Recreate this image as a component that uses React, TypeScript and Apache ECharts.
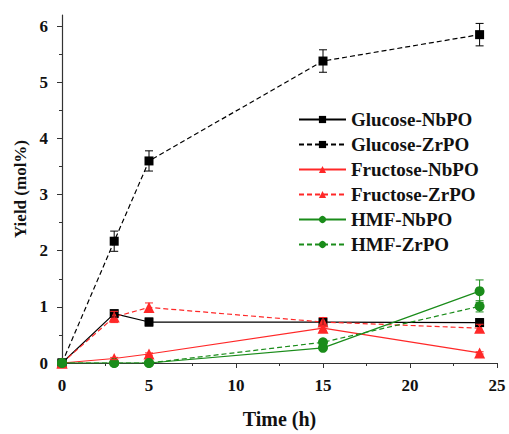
import React, { useEffect, useRef } from "react";
import * as echarts from "echarts";

const times = [0, 3, 5, 15, 24];
const glucoseNb = [0, 0.88, 0.73, 0.73, 0.72];
const glucoseNbErr = [0, 0.06, 0.07, 0.06, 0.07];
const glucoseZr = [0, 2.17, 3.6, 5.38, 5.85];
const glucoseZrErr = [0, 0.18, 0.18, 0.2, 0.2];
const fructoseNb = [0, 0.08, 0.16, 0.62, 0.18];
const fructoseNbErr = [0, 0.02, 0.02, 0.05, 0.02];
const fructoseZr = [0, 0.82, 0.99, 0.73, 0.62];
const fructoseZrErr = [0, 0.1, 0.08, 0.08, 0.07];
const hmfNb = [0, 0, 0, 0.27, 1.28];
const hmfNbErr = [0, 0, 0, 0.03, 0.2];
const hmfZr = [0, 0, 0, 0.37, 1.01];
const hmfZrErr = [0, 0, 0, 0.03, 0.1];

const yMajor = [0, 1, 2, 3, 4, 5, 6];
const yMinor = [0.5, 1.5, 2.5, 3.5, 4.5, 5.5];

const FONT = "Liberation Serif";
const BLACK = "#000000";
const RED = "#ff2828";
const GREEN = "#1a8c1a";

type S = {
  name: string;
  vals: number[];
  errs: number[];
  color: string;
  dashed: boolean;
  symbol: string;
  size: number;
};

const seriesDefs: S[] = [
  { name: "Glucose-NbPO", vals: glucoseNb, errs: glucoseNbErr, color: BLACK, dashed: false, symbol: "rect", size: 9 },
  { name: "Glucose-ZrPO", vals: glucoseZr, errs: glucoseZrErr, color: BLACK, dashed: true, symbol: "rect", size: 9 },
  { name: "Fructose-NbPO", vals: fructoseNb, errs: fructoseNbErr, color: RED, dashed: false, symbol: "triangle", size: 11 },
  { name: "Fructose-ZrPO", vals: fructoseZr, errs: fructoseZrErr, color: RED, dashed: true, symbol: "triangle", size: 11 },
  { name: "HMF-NbPO", vals: hmfNb, errs: hmfNbErr, color: GREEN, dashed: false, symbol: "circle", size: 10 },
  { name: "HMF-ZrPO", vals: hmfZr, errs: hmfZrErr, color: GREEN, dashed: true, symbol: "circle", size: 10 },
];

export default function App() {
  const ref = useRef<HTMLDivElement>(null);
  useEffect(() => {
    if (!ref.current) return;
    const chart = echarts.init(ref.current, null, { renderer: "svg" });
    const series: any[] = [];
    seriesDefs.forEach((d) => {
      series.push({
        name: d.name,
        type: "line",
        data: times.map((t, i) => [t, d.vals[i]]),
        symbol: d.symbol,
        symbolSize: d.size,
        showSymbol: true,
        itemStyle: { color: d.color },
        lineStyle: { color: d.color, width: 1.2, type: d.dashed ? [5, 3] : "solid" },
        z: 3,
      });
      series.push({
        type: "custom",
        name: d.name + "-err",
        data: times.map((t, i) => [t, d.vals[i], d.errs[i]]),
        z: 4,
        renderItem: (params: any, api: any) => {
          const x = api.value(0);
          const y = api.value(1);
          const e = api.value(2);
          if (!e) return { type: "group", children: [] };
          const lo = api.coord([x, y - e]);
          const hi = api.coord([x, y + e]);
          const st = { stroke: d.color, lineWidth: 1 };
          const w = 4;
          return {
            type: "group",
            children: [
              { type: "line", shape: { x1: lo[0], y1: lo[1], x2: hi[0], y2: hi[1] }, style: st },
              { type: "line", shape: { x1: lo[0] - w, y1: lo[1], x2: lo[0] + w, y2: lo[1] }, style: st },
              { type: "line", shape: { x1: hi[0] - w, y1: hi[1], x2: hi[0] + w, y2: hi[1] }, style: st },
            ],
          };
        },
      });
    });

    chart.setOption({
      animation: false,
      backgroundColor: "#ffffff",
      grid: { left: 62, right: 12, top: 15, bottom: 67, containLabel: false },
      legend: {
        orient: "vertical",
        left: 293,
        top: 105,
        itemWidth: 47,
        itemHeight: 9,
        itemGap: 6,
        data: seriesDefs.map((d) => d.name),
        textStyle: { fontFamily: FONT, fontWeight: "bold", fontSize: 19, color: "#111" },
      },
      xAxis: {
        type: "value",
        min: 0,
        max: 25,
        interval: 5,
        name: "Time (h)",
        nameLocation: "middle",
        nameGap: 46,
        nameTextStyle: { fontFamily: FONT, fontWeight: "bold", fontSize: 20, color: "#111" },
        axisLine: { lineStyle: { color: "#333", width: 1.2 } },
        axisTick: { inside: false, length: 5, lineStyle: { color: "#333" } },
        minorTick: { show: true, splitNumber: 2, length: 3, lineStyle: { color: "#333" } },
        splitLine: { show: false },
        axisLabel: { fontFamily: FONT, fontWeight: "bold", fontSize: 17, color: "#111", margin: 14 },
      },
      yAxis: [
        {
          type: "value",
          min: 0,
          max: 6.2,
          name: "Yield (mol%)",
          nameLocation: "middle",
          nameGap: 32,
          nameTextStyle: { fontFamily: FONT, fontWeight: "bold", fontSize: 17, color: "#111" },
          axisLine: { show: true, lineStyle: { color: "#333", width: 1.2 } },
          axisTick: { show: true, inside: false, length: 5, customValues: yMajor, lineStyle: { color: "#333" } },
          axisLabel: { fontFamily: FONT, fontWeight: "bold", fontSize: 17, color: "#111", margin: 14, customValues: yMajor },
          splitLine: { show: false },
        },
        {
          type: "value",
          min: 0,
          max: 6.2,
          position: "left",
          axisLine: { show: false },
          axisTick: { show: true, inside: false, length: 3, customValues: yMinor, lineStyle: { color: "#333" } },
          axisLabel: { show: false },
          splitLine: { show: false },
        },
      ],
      series,
    });
    return () => chart.dispose();
  }, []);
  return <div ref={ref} style={{ position: "absolute", left: 0, top: 0, width: 509, height: 434 }} />;
}
